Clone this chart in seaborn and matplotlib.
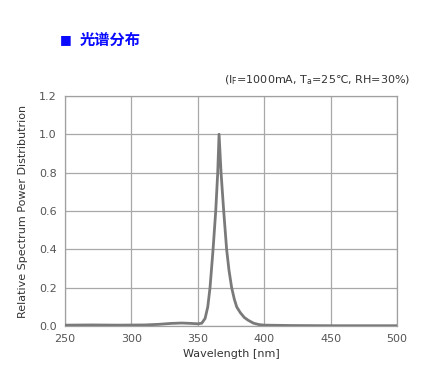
import numpy as np
import pandas as pd
import matplotlib
matplotlib.use("Agg")
import matplotlib.pyplot as plt
import seaborn as sns

wavelength = [250, 270, 290, 310, 320, 330, 338, 345, 350, 353, 355.5, 357.5, 359.2, 361.5, 363.5, 365, 366,
              367.5, 369.5, 371.7, 373.5, 375.5, 377.5, 379.3, 382, 385, 388, 392, 396, 400, 420, 450, 480, 500]
intensity = [0.005, 0.006, 0.005, 0.006, 0.009, 0.014, 0.016, 0.014, 0.012, 0.015, 0.04, 0.10, 0.20, 0.40, 0.60, 0.80, 1.00,
             0.80, 0.60, 0.40, 0.29, 0.20, 0.14, 0.10, 0.07, 0.045, 0.03, 0.015, 0.008, 0.005, 0.003, 0.002, 0.002, 0.002]
x_ticks = [250, 300, 350, 400, 450, 500]
y_ticks = [0.0, 0.2, 0.4, 0.6, 0.8, 1.0, 1.2]

sns.set_theme(style="white")
plt.rcParams['font.family'] = ['DejaVu Sans', 'Noto Sans CJK SC']

df = pd.DataFrame({"wl": wavelength, "val": intensity})

fig = plt.figure(figsize=(4.33, 3.85), dpi=100)
ax = fig.add_axes([0.150, 0.153, 0.767, 0.598])

sns.lineplot(data=df, x="wl", y="val", ax=ax, color="#7a7a7a", linewidth=2.0, zorder=3)

ax.set_xlim(250, 500)
ax.set_ylim(0, 1.2)
ax.set_xticks(x_ticks)
ax.set_yticks(y_ticks)
ax.set_xticklabels([str(t) for t in x_ticks])
ax.set_yticklabels([f"{t:.1f}" for t in y_ticks])
ax.grid(True, color="#a8a8a8", linewidth=0.9)
ax.tick_params(length=0, labelsize=8, labelcolor="#555555", pad=6)
for s in ax.spines.values():
    s.set_color("#a0a0a0")
    s.set_linewidth(0.9)

ax.set_xlabel("Wavelength [nm]", fontsize=8, color="#333333", labelpad=3)
ax.set_ylabel("Relative Spectrum Power Distributrion", fontsize=8, color="#333333", labelpad=8)

fig.text(60/433, 1 - 40/385, "■", color="#0a0aff", fontsize=9, va="center", ha="left",
         family=['DejaVu Sans', 'Noto Sans CJK SC'])
fig.text(80/433, 1 - 40/385, "光谱分布", color="#0a0aff", fontsize=11, fontweight="bold", va="center", ha="left",
         family=['Noto Sans CJK SC', 'DejaVu Sans'])
fig.text(410/433, 1 - 80/385, r"(I$_\mathrm{F}$=1000mA, T$_\mathrm{a}$=25℃, RH=30%)", color="#333333",
         fontsize=8, va="center", ha="right", family=['DejaVu Sans', 'Noto Sans CJK SC'])

fig.savefig("out.png", dpi=100)
